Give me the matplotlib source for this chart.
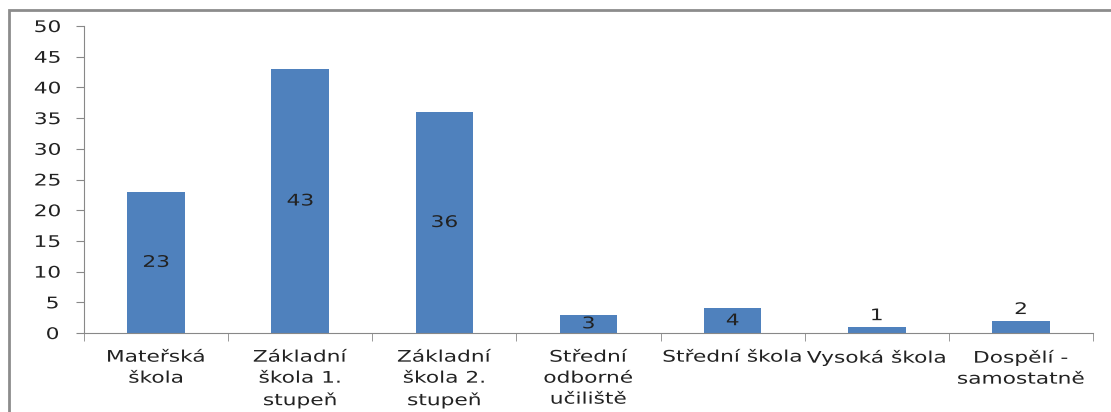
import matplotlib
matplotlib.use("Agg")
import matplotlib.pyplot as plt
from matplotlib.patches import Rectangle
from matplotlib import patheffects
from matplotlib.transforms import Affine2D

categories = ["Mateřská\nškola", "Základní\nškola 1.\nstupeň", "Základní\nškola 2.\nstupeň",
              "Střední\nodborné\nučiliště", "Střední škola", "Vysoká škola", "Dospělí -\nsamostatně"]
values = [23, 43, 36, 3, 4, 1, 2]
yticks = [0, 5, 10, 15, 20, 25, 30, 35, 40, 45, 50]


class Stretch(patheffects.AbstractPathEffect):
    """Stretch text glyphs horizontally about each line's centre."""

    def __init__(self, sx):
        super().__init__()
        self.sx = sx

    def draw_path(self, renderer, gc, tpath, affine, rgbFace=None):
        ext = tpath.get_extents()
        cx = (ext.x0 + ext.x1) / 2
        a = Affine2D().translate(-cx, 0).scale(self.sx, 1).translate(cx, 0) + affine
        renderer.draw_path(gc, tpath, a, rgbFace)


SX = 1.36
pe = [Stretch(SX)]
FS = 11.5
TXT = "#222222"

plt.rcParams['font.family'] = ['DejaVu Sans']
fig = plt.figure(figsize=(11.11, 4.12), dpi=100)
W, H = 1111, 412
ax = fig.add_axes([84 / W, 1 - 333 / H, (1093 - 84) / W, (333 - 26) / H])

x = list(range(len(values)))
bars = ax.bar(x, values, width=0.40, color="#4F81BD", zorder=2)
ax.set_xlim(-0.5, len(values) - 0.5)
ax.set_ylim(0, 50)
ax.set_yticks(yticks)
ax.set_yticklabels([str(t) for t in yticks], fontsize=FS, color=TXT)

for b, v in zip(bars, values):
    cx = b.get_x() + b.get_width() / 2
    if v >= 3:
        ax.text(cx, v / 2, str(v), ha="center", va="center",
                fontsize=FS, color=TXT, path_effects=pe)
    else:
        ax.text(cx, v + 0.6, str(v), ha="center", va="bottom",
                fontsize=FS, color=TXT, path_effects=pe)

ax.set_xticks(x)
ax.set_xticklabels(categories, fontsize=FS, color=TXT, linespacing=1.5)
ax.tick_params(axis="x", length=0, pad=12)
ax.set_xticks([i - 0.5 for i in range(len(values) + 1)], minor=True)
ax.tick_params(axis="x", which="minor", length=6, direction="out", color="#888888")
ax.tick_params(axis="y", length=6, direction="out", color="#888888", pad=13)
for lab in ax.get_xticklabels() + ax.get_yticklabels():
    lab.set_path_effects(pe)

for s in ["top", "right"]:
    ax.spines[s].set_visible(False)
ax.spines["left"].set_color("#888888")
ax.spines["bottom"].set_color("#888888")

fig.patches.append(Rectangle((9 / W, -0.1), 1.2, 1 - 10 / H + 0.1, transform=fig.transFigure,
                             fill=False, edgecolor="#8c8c8c", linewidth=2))

fig.savefig("out.png", dpi=100)
